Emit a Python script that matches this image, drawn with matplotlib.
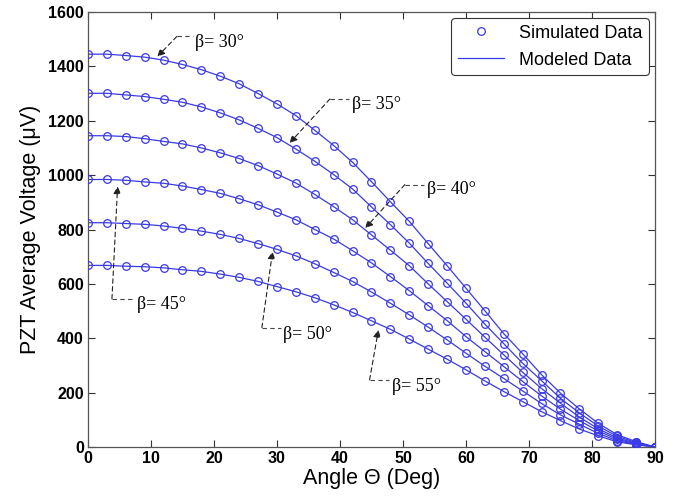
import numpy as np
import matplotlib.pyplot as plt

# angle samples (deg)
theta = [0, 3, 6, 9, 12, 15, 18, 21, 24, 27, 30, 33, 36, 39, 42, 45,
         48, 51, 54, 57, 60, 63, 66, 69, 72, 75, 78, 81, 84, 87, 90]

# average voltage (uV), one list per beta
v_b30 = [1445, 1445, 1440, 1434, 1423, 1407, 1388, 1364, 1336, 1300, 1262, 1219, 1165, 1109, 1047, 976,
         902, 830, 748, 667, 584, 501, 417, 343, 266, 198, 140, 87, 45, 20, 0]
v_b35 = [1301, 1301, 1295, 1289, 1279, 1268, 1251, 1229, 1203, 1172, 1138, 1096, 1051, 1002, 949, 883,
         818, 750, 675, 603, 529, 452, 380, 308, 244, 179, 125, 77, 39, 17, 0]
v_b40 = [1145, 1145, 1142, 1134, 1124, 1115, 1100, 1082, 1061, 1035, 1004, 971, 929, 884, 836, 780,
         724, 667, 600, 535, 470, 404, 339, 275, 215, 161, 110, 67, 33, 14, 0]
v_b45 = [984, 984, 981, 975, 970, 960, 947, 933, 913, 891, 864, 836, 800, 765, 722, 677,
         627, 575, 520, 465, 406, 351, 296, 241, 188, 139, 97, 59, 28, 12, 0]
v_b50 = [825, 825, 822, 819, 813, 804, 794, 782, 767, 748, 727, 703, 674, 642, 609, 570,
         529, 486, 441, 394, 345, 297, 252, 206, 160, 118, 84, 50, 23, 10, 0]
v_b55 = [668, 668, 665, 663, 659, 652, 646, 636, 624, 609, 590, 571, 549, 523, 495, 464,
         433, 397, 360, 323, 284, 243, 204, 167, 130, 97, 66, 41, 19, 8, 0]

curves = [v_b30, v_b35, v_b40, v_b45, v_b50, v_b55]
labels = ['β= 30°', 'β= 35°', 'β= 40°', 'β= 45°', 'β= 50°', 'β= 55°']

# label text position, elbow of the dashed leader, arrow tip
label_pos = [(17.0, 1488), (41.9, 1260), (53.8, 947), (7.7, 523), (31.0, 412), (48.2, 222)]
elbow_pos = [(14.1, 1510), (38.4, 1280), (50.3, 965), (3.8, 545), (27.6, 439), (44.7, 247)]
tip_pos = [(11.0, 1436), (32.0, 1118), (44.0, 805), (4.7, 959), (29.3, 719), (46.1, 431)]

blue = '#3a3ae6'

plt.rcParams['font.family'] = ['Liberation Sans', 'DejaVu Sans']
fig = plt.figure(figsize=(6.78, 5.01), dpi=100)
ax = fig.add_axes([0.1298, 0.1078, 0.8362, 0.8682])

for i, v in enumerate(curves):
    ax.plot(theta, v, 'o', mfc='none', mec=blue, ms=5.5, mew=0.9,
            label='Simulated Data' if i == 0 else None, zorder=3)
    ax.plot(theta, v, '-', color=blue, lw=0.9,
            label='Modeled Data' if i == 0 else None, zorder=2)

for lab, lp, ep, tp in zip(labels, label_pos, elbow_pos, tip_pos):
    # horizontal dashed piece from the label to the elbow
    ax.plot([ep[0], lp[0] - 0.4], [ep[1], ep[1]], '--', color='#444444', lw=0.8, dashes=(4, 3))
    ax.annotate('', xy=tp, xytext=ep,
                arrowprops=dict(arrowstyle='-|>', color='#222222', lw=0.8, ls=(0, (4, 3)),
                                mutation_scale=11, shrinkA=0, shrinkB=0))
    ax.text(lp[0], lp[1], lab, family=['Liberation Serif', 'DejaVu Serif'],
            fontsize=13, va='center', ha='left')

ax.set_xlim(0, 90)
ax.set_ylim(0, 1600)
ax.set_xticks(np.arange(0, 91, 10))
ax.set_yticks(np.arange(0, 1601, 200))
ax.tick_params(direction='in', top=True, right=True, length=5, width=0.8,
               labelsize=11.5, colors='#333333', labelcolor='black', pad=3)
for t in ax.get_xticklabels() + ax.get_yticklabels():
    t.set_fontweight('bold')
for s in ax.spines.values():
    s.set_color('#555555')
    s.set_linewidth(0.9)

ax.set_xlabel('Angle Θ (Deg)', fontsize=15.5, labelpad=1)
ax.set_ylabel('PZT Average Voltage (μV)', fontsize=15.5, labelpad=5)

leg = ax.legend(loc='upper right', fontsize=13, frameon=True, fancybox=True,
                handlelength=2.6, borderpad=0.35, labelspacing=0.55,
                bbox_to_anchor=(1.0, 1.0), borderaxespad=0.35)
leg.get_frame().set_edgecolor('#333333')
leg.get_frame().set_linewidth(0.8)
leg.get_frame().set_alpha(1)

fig.savefig('out.png', dpi=100)
